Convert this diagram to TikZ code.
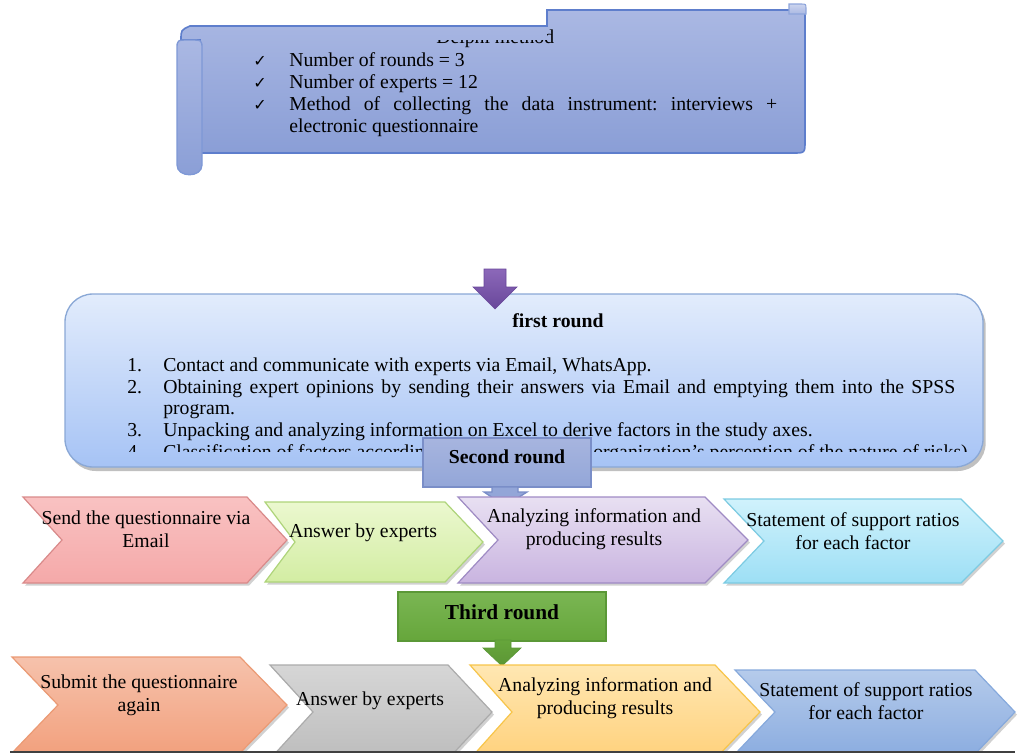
\documentclass[tikz,border=0pt]{standalone}
\usepackage{fontspec}
\setmainfont{Liberation Serif}
\newfontfamily\djv{DejaVu Sans}
\usetikzlibrary{shadows}
\frenchspacing
\definecolor{scrTop}{HTML}{AAB8E3}
\definecolor{scrBot}{HTML}{8A9ED6}
\definecolor{scrLine}{HTML}{5E7ECC}
\definecolor{frTop}{HTML}{E2ECFC}
\definecolor{frBot}{HTML}{A6C3F5}
\definecolor{frLine}{HTML}{8AA8D6}
\definecolor{puTop}{HTML}{8C68B9}
\definecolor{puBot}{HTML}{68479A}
\definecolor{seTop}{HTML}{A7B5DF}
\definecolor{seBot}{HTML}{93A6D8}
\definecolor{seLine}{HTML}{7A8EC8}
\definecolor{piTop}{HTML}{F9C2C2}
\definecolor{piBot}{HTML}{F5A9A9}
\definecolor{piLine}{HTML}{D98A8A}
\definecolor{grTop}{HTML}{EBF8CF}
\definecolor{grBot}{HTML}{D3EDA3}
\definecolor{grLine}{HTML}{AED47A}
\definecolor{vcTop}{HTML}{E8E0F2}
\definecolor{vcBot}{HTML}{C9B4E0}
\definecolor{vcLine}{HTML}{9F8BC4}
\definecolor{cyTop}{HTML}{D0F2FC}
\definecolor{cyBot}{HTML}{9DDFF5}
\definecolor{cyLine}{HTML}{7CCBE2}
\definecolor{thTop}{HTML}{7AB653}
\definecolor{thBot}{HTML}{66A63B}
\definecolor{thLine}{HTML}{5B9837}
\definecolor{saTop}{HTML}{F6C2AC}
\definecolor{saBot}{HTML}{F2A17E}
\definecolor{saLine}{HTML}{EB9A74}
\definecolor{gyTop}{HTML}{D6D6D6}
\definecolor{gyBot}{HTML}{BDBDBD}
\definecolor{gyLine}{HTML}{ABABAB}
\definecolor{yeTop}{HTML}{FFE7B2}
\definecolor{yeBot}{HTML}{FFD17C}
\definecolor{yeLine}{HTML}{F7C54A}
\definecolor{blTop}{HTML}{B5CBEB}
\definecolor{blBot}{HTML}{8CADE0}
\definecolor{blLine}{HTML}{86A9DC}
\newcommand\txtfont{\fontsize{14.8}{17.5}\selectfont}
\newcommand\chevpath[7]{% style, L, T, R, P, N, B
  \path[#1] (#2,#3) -- (#4,#3) -- (#5,{(#3+#7)/2}) -- (#4,#7) -- (#2,#7) -- (#6,{(#3+#7)/2}) -- cycle;}
\tikzset{
  txt/.style={font=\txtfont, inner sep=0pt, text=black},
  ctxt/.style={txt, align=center},
  bold/.style={font=\txtfont\bfseries, inner sep=0pt},
  chk/.style={font=\djv\fontsize{12}{12}\selectfont, inner sep=0pt},
  shad/.style={drop shadow={shadow xshift=1.5pt, shadow yshift=-2pt, opacity=0.3, fill=black!60}},
  chev/.style n args={3}{top color=#1, bottom color=#2, draw=#3, line width=0.9pt, shad},
}
\begin{document}
\begin{tikzpicture}[x=0.75pt,y=-0.75pt]
\useasboundingbox (0,0) rectangle (1021,753);
\clip (0,0) rectangle (1021,753);

% ---------------- scroll ----------------
\path[top color=scrTop, bottom color=scrBot, draw=scrLine, line width=1.2pt]
  (200,153) -- (200,40) -- (181,40) .. controls (181,30) .. (190,26) -- (547,26) -- (547,10)
  -- (797,10) .. controls (805,10) .. (805,18) -- (805,141) .. controls (805,153) .. (793,153) -- cycle;
\path[top color=scrTop!60!white, bottom color=scrTop, draw=scrLine!70, line width=0.8pt]
  (789,4) -- (801,4) .. controls (806,4) .. (806,9) -- (806,14) -- (789,14) -- cycle;
\path[top color=scrTop, bottom color=scrBot, draw=scrLine!80, line width=1pt]
  (177,49) .. controls (177,40) .. (189.5,40) .. controls (202,40) .. (202,49)
  -- (202,165) .. controls (202,178) and (177,178) .. (177,165) -- cycle;

\begin{scope}
  \clip (150,39.5) rectangle (547,60) (547,12) rectangle (800,60);
  \node[txt, anchor=base west] (head) at (436,43) {Delphi method};
\end{scope}

\node[chk] (k1) at (260,61) {✓};
\node[chk] (k2) at (260,83) {✓};
\node[chk] (k3) at (260,105) {✓};
\node[txt, anchor=base west] (s1) at (289,66) {Number of rounds = 3};
\node[txt, anchor=base west] (s2) at (289,88) {Number of experts = 12};
\node[txt, anchor=base west] (s3) at (289,110) {\makebox[366pt][s]{Method of collecting the data instrument: interviews +}};
\node[txt, anchor=base west] (s4) at (289,132) {electronic questionnaire};

% ---------------- first round ----------------
\path[top color=frTop, bottom color=frBot, draw=frLine, line width=1pt, rounded corners=21pt,
      drop shadow={shadow xshift=2pt, shadow yshift=-3pt, opacity=0.45, fill=black!55}]
  (65,294) rectangle (983,467);
\node[bold, anchor=base] (fr) at (558,327) {first round};
\node[txt, anchor=base west] (n1) at (127,371) {1.};
\node[txt, anchor=base west] (n2) at (127,393) {2.};
\node[txt, anchor=base west] (n3) at (127,436) {3.};
\node[txt, anchor=base west] (l1) at (163,371) {Contact and communicate with experts via Email, WhatsApp.};
\node[txt, anchor=base west] (l2) at (163,393) {\makebox[594pt][s]{Obtaining expert opinions by sending their answers via Email and emptying them into the SPSS}};
\node[txt, anchor=base west] (l2b) at (163,414.5) {program.};
\node[txt, anchor=base west] (l3) at (163,436) {Unpacking and analyzing information on Excel to derive factors in the study axes.};
\begin{scope}
  \clip (70,440) rectangle (980,451);
  \node[txt, anchor=base west] (n4) at (127,458) {4.};
  \node[txt, anchor=base west] (l4a) at (163,458) {Classification of factors according to};
  \node[txt, anchor=base east] (l4b) at (968,458) {(the organization's perception of the nature of risks)};
\end{scope}

% purple arrow
\path[top color=puTop, bottom color=puBot, draw=puBot, line width=0.5pt]
  (484,269) -- (506,269) -- (506,287) -- (517,287) -- (495,309) -- (473,287) -- (484,287) -- cycle;

% ---------------- second round ----------------
\path[top color=seTop, bottom color=seBot, draw=seLine, line width=1pt]
  (423,438) rectangle (591,487);
\path[fill=seBot, draw=seLine, line width=1pt]
  (492,487) -- (518,487) -- (518,492) -- (527,492) -- (505,506) -- (484,492) -- (492,492) -- cycle;
\node[bold, anchor=center] (sr) at (507,457) {Second round};

% row 1 chevrons
\chevpath{chev={piTop}{piBot}{piLine}}{23}{497}{247}{287}{62}{583}
\chevpath{chev={grTop}{grBot}{grLine}}{265}{502}{445}{483}{295}{582}
\chevpath{chev={vcTop}{vcBot}{vcLine}}{458}{497}{705}{748}{498}{583}
\chevpath{chev={cyTop}{cyBot}{cyLine}}{724}{499}{961}{1003}{764}{583}
\node[ctxt] (a1) at (146,529) {Send the questionnaire via\\Email};
\node[ctxt] (a2) at (363,533) {Answer by experts};
\node[ctxt] (a3) at (594,529) {Analyzing information and\\producing results};
\node[ctxt] (a4) at (853,531) {Statement of support ratios\\for each factor};

% ---------------- third round ----------------
\path[top color=thTop, bottom color=thBot, draw=thLine, line width=1pt]
  (398,592) rectangle (606,641);
\path[top color=thBot, bottom color=thBot!90!black, draw=thLine, line width=0.5pt]
  (495,640) -- (511,640) -- (511,648) -- (521,648) -- (502,666) -- (483,648) -- (495,648) -- cycle;
\node[bold, font=\fontsize{16}{18}\selectfont\bfseries] (tr) at (502,612) {Third round};

% row 2 chevrons
\chevpath{chev={saTop}{saBot}{saLine}}{12}{657}{240}{287}{58}{753}
\chevpath{chev={gyTop}{gyBot}{gyLine}}{270}{665}{448}{492}{313}{759}
\chevpath{chev={yeTop}{yeBot}{yeLine}}{470}{665}{715}{760}{512}{759}
\chevpath{chev={blTop}{blBot}{blLine}}{735}{670}{975}{1015}{775}{754}
\node[ctxt] (b1) at (139,695) {Submit the questionnaire\\again};
\node[ctxt] (b2) at (370,701) {Answer by experts};
\node[ctxt] (b3) at (605,698) {Analyzing information and\\producing results};
\node[ctxt] (b4) at (866,701) {Statement of support ratios\\for each factor};

\coordinate (bl) at (10,752);
\coordinate (br) at (1015,752);
\draw[black!75, line width=1.5pt] (bl) -- (br);
\end{tikzpicture}
\end{document}
